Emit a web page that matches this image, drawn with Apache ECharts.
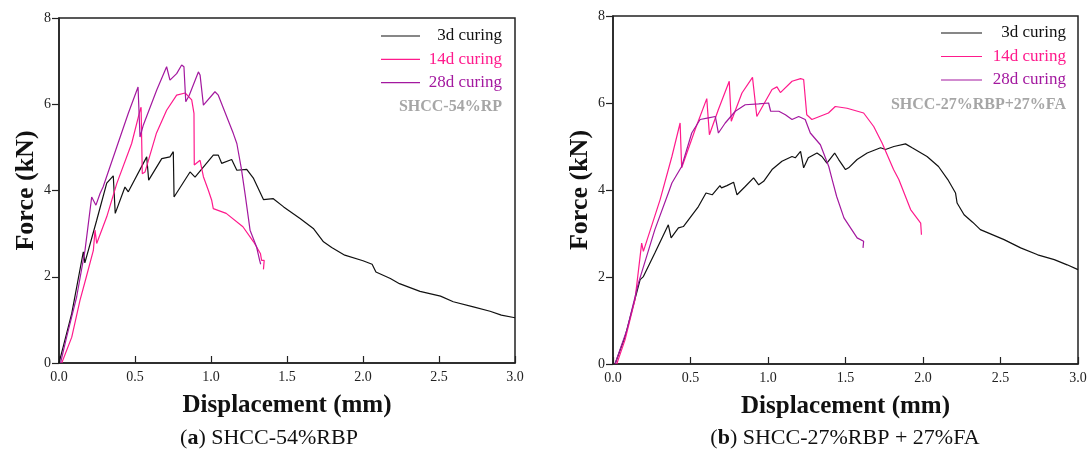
<!DOCTYPE html>
<html><head><meta charset="utf-8">
<script src="https://cdn.jsdelivr.net/npm/echarts@6/dist/echarts.min.js"></script>
<style>html,body{margin:0;padding:0;background:#fff}#c{width:1090px;height:459px}</style>
</head><body><div id="c"></div>
<script>
// ---- data: [displacement (mm), force (kN)] ----
const seriesNames = ['3d curing', '14d curing', '28d curing'];
const xTicks = [0, 0.5, 1.0, 1.5, 2.0, 2.5, 3.0];
const yTicks = [0, 2, 4, 6, 8];

const a3d = [[0,0],[0.03,0.41],[0.084,1.15],[0.16,2.58],[0.17,2.32],[0.248,3.31],[0.314,4.17],[0.357,4.34],[0.37,3.47],[0.434,4.08],[0.456,3.97],[0.577,4.78],[0.59,4.24],[0.676,4.74],[0.73,4.78],[0.752,4.90],[0.757,3.85],[0.768,3.85],[0.862,4.43],[0.895,4.31],[1.015,4.82],[1.048,4.82],[1.07,4.63],[1.136,4.72],[1.17,4.47],[1.235,4.49],[1.28,4.28],[1.345,3.79],[1.41,3.81],[1.478,3.62],[1.586,3.35],[1.673,3.12],[1.74,2.81],[1.794,2.68],[1.88,2.50],[2.0,2.37],[2.06,2.29],[2.085,2.11],[2.18,1.96],[2.24,1.84],[2.375,1.66],[2.51,1.55],[2.594,1.42],[2.726,1.30],[2.836,1.20],[2.91,1.11],[3.0,1.05]];
const a14d = [[0.018,0],[0.084,0.6],[0.138,1.45],[0.18,2.0],[0.226,2.61],[0.237,3.08],[0.248,2.77],[0.314,3.39],[0.38,4.16],[0.478,5.09],[0.533,5.86],[0.54,5.93],[0.548,4.39],[0.566,4.43],[0.64,5.32],[0.708,5.86],[0.774,6.21],[0.83,6.26],[0.873,6.1],[0.888,5.79],[0.89,4.59],[0.928,4.70],[0.95,4.32],[0.983,4.0],[1.004,3.78],[1.015,3.58],[1.10,3.47],[1.21,3.16],[1.28,2.81],[1.325,2.54],[1.333,2.38],[1.35,2.38],[1.345,2.17]];
const a28d = [[0.01,0],[0.05,0.6],[0.116,1.53],[0.171,2.61],[0.215,3.85],[0.226,3.89],[0.243,3.66],[0.27,3.93],[0.29,4.08],[0.38,5.01],[0.456,5.79],[0.52,6.40],[0.533,5.24],[0.555,5.52],[0.643,6.33],[0.708,6.87],[0.73,6.56],[0.774,6.71],[0.807,6.91],[0.822,6.87],[0.834,6.06],[0.857,6.21],[0.917,6.75],[0.928,6.68],[0.95,5.98],[0.96,5.94],[1.026,6.29],[1.048,6.21],[1.147,5.32],[1.17,5.09],[1.2,4.5],[1.225,3.9],[1.257,3.08],[1.30,2.69],[1.32,2.38],[1.327,2.29]];

const b3d = [[0.013,0],[0.078,0.63],[0.175,1.94],[0.196,2.01],[0.27,2.55],[0.357,3.20],[0.375,2.90],[0.422,3.13],[0.454,3.16],[0.551,3.62],[0.6,3.93],[0.64,3.89],[0.69,4.10],[0.70,4.05],[0.735,4.1],[0.778,4.18],[0.80,3.89],[0.853,4.08],[0.907,4.28],[0.94,4.12],[0.972,4.20],[1.026,4.47],[1.09,4.66],[1.155,4.77],[1.176,4.74],[1.21,4.89],[1.23,4.51],[1.26,4.74],[1.316,4.85],[1.348,4.77],[1.38,4.62],[1.43,4.85],[1.456,4.70],[1.50,4.47],[1.52,4.51],[1.575,4.70],[1.64,4.85],[1.726,4.97],[1.758,4.93],[1.812,5.0],[1.887,5.06],[1.93,4.97],[2.026,4.77],[2.10,4.54],[2.16,4.24],[2.21,3.93],[2.22,3.70],[2.265,3.43],[2.32,3.26],[2.37,3.09],[2.523,2.86],[2.63,2.67],[2.74,2.51],[2.847,2.40],[2.93,2.28],[3.0,2.17]];
const b14d = [[0.024,0],[0.078,0.56],[0.142,1.48],[0.185,2.78],[0.196,2.59],[0.304,3.78],[0.38,4.77],[0.433,5.54],[0.443,4.51],[0.53,5.39],[0.605,6.10],[0.622,5.27],[0.68,5.85],[0.75,6.50],[0.763,5.58],[0.832,6.23],[0.90,6.59],[0.928,5.69],[1.026,6.31],[1.058,6.37],[1.08,6.24],[1.155,6.50],[1.21,6.56],[1.23,6.54],[1.25,5.73],[1.283,5.62],[1.39,5.77],[1.434,5.92],[1.51,5.88],[1.617,5.77],[1.682,5.46],[1.736,5.08],[1.81,4.47],[1.844,4.24],[1.92,3.55],[1.985,3.24],[1.995,3.20],[1.99,2.97]];
const b28d = [[0.013,0],[0.09,0.79],[0.164,1.86],[0.27,3.09],[0.357,3.93],[0.38,4.16],[0.443,4.54],[0.508,5.31],[0.562,5.62],[0.616,5.66],[0.66,5.69],[0.68,5.31],[0.724,5.54],[0.789,5.81],[0.853,5.96],[0.94,5.98],[1.004,6.0],[1.017,5.81],[1.07,5.81],[1.112,5.73],[1.155,5.62],[1.198,5.69],[1.24,5.62],[1.273,5.31],[1.338,5.04],[1.392,4.54],[1.414,4.24],[1.443,3.85],[1.49,3.36],[1.54,3.09],[1.575,2.90],[1.617,2.82],[1.613,2.67]];

const panelLabelsA = ['SHCC-54%RP'];
const panelLabelsB = ['SHCC-27%RBP+27%FA'];
const captionA = ['a', ' SHCC-54%RBP'];
const captionB = ['b', ' SHCC-27%RBP + 27%FA'];

// ---- styles ----
const colors = ['#111111', '#ff1a8c', '#a3189f'];
const serif = '"Liberation Serif", "DejaVu Serif", serif';

const chart = echarts.init(document.getElementById('c'), null, {renderer: 'canvas'});

function xAx(gi) {
  return {
    type: 'value', gridIndex: gi, min: xTicks[0], max: xTicks[xTicks.length - 1], interval: 0.5,
    axisLine: {lineStyle: {color: '#222', width: 1.5}},
    axisTick: {inside: true, length: 7, lineStyle: {color: '#222', width: 1.2}},
    axisLabel: {color: '#222', fontFamily: serif, fontSize: 14, margin: 7, formatter: v => v.toFixed(1)},
    splitLine: {show: false},
    name: 'Displacement (mm)', nameLocation: 'middle', nameGap: 30,
    nameTextStyle: {fontFamily: serif, fontWeight: 'bold', fontSize: 25, color: '#111'}
  };
}
function yAx(gi) {
  return {
    type: 'value', gridIndex: gi, min: yTicks[0], max: yTicks[yTicks.length - 1], interval: 2,
    axisLine: {lineStyle: {color: '#222', width: 1.5}},
    axisTick: {inside: false, length: 7, lineStyle: {color: '#222', width: 1.2}},
    axisLabel: {color: '#222', fontFamily: serif, fontSize: 14, margin: 8},
    splitLine: {show: false},
    name: 'Force (kN)', nameLocation: 'middle', nameGap: 20, nameRotate: 90,
    nameTextStyle: {fontFamily: serif, fontWeight: 'bold', fontSize: 26, color: '#111'}
  };
}
function line(name, data, color, gi) {
  return {type: 'line', name, data, xAxisIndex: gi, yAxisIndex: gi, showSymbol: false, symbol: 'none',
    lineStyle: {color, width: 1.2}, animation: false, z: 3};
}
function legendGraphics(x1, x2, textRight, y0, dy, tag) {
  const g = [];
  seriesNames.forEach((n, i) => {
    const y = y0 + i * dy;
    g.push({type: 'line', shape: {x1, y1: y, x2, y2: y}, style: {stroke: colors[i], lineWidth: 1.2}});
    g.push({type: 'text', x: textRight, y, style: {text: n, fill: colors[i], font: '17px ' + serif, textAlign: 'right', textVerticalAlign: 'middle'}});
  });
  g.push({type: 'text', x: textRight, y: y0 + 3 * dy + 1, style: {text: tag, fill: '#a6a6a6', font: 'bold 16px ' + serif, textAlign: 'right', textVerticalAlign: 'middle'}});
  return g;
}
function caption(cx, parts) {
  return {type: 'text', x: cx, y: 438, style: {
    rich: {b: {fontFamily: serif, fontWeight: 'bold', fontSize: 22, fill: '#111'}, n: {fontFamily: serif, fontSize: 22, fill: '#111'}},
    text: '{n|(}{b|' + parts[0] + '}{n|)' + parts[1] + '}', textAlign: 'center', textVerticalAlign: 'middle'}};
}

chart.setOption({
  backgroundColor: '#fff',
  animation: false,
  grid: [
    {left: 59, top: 18, width: 456, height: 345, show: true, borderColor: '#222', borderWidth: 1.5, backgroundColor: 'transparent'},
    {left: 613, top: 16, width: 465, height: 348, show: true, borderColor: '#222', borderWidth: 1.5, backgroundColor: 'transparent'}
  ],
  xAxis: [xAx(0), xAx(1)],
  yAxis: [yAx(0), yAx(1)],
  series: [
    line(seriesNames[0], a3d, colors[0], 0),
    line(seriesNames[1], a14d, colors[1], 0),
    line(seriesNames[2], a28d, colors[2], 0),
    line(seriesNames[0], b3d, colors[0], 1),
    line(seriesNames[1], b14d, colors[1], 1),
    line(seriesNames[2], b28d, colors[2], 1)
  ],
  graphic: [].concat(
    legendGraphics(381, 420, 502, 36, 23.3, panelLabelsA[0]),
    legendGraphics(941, 982, 1066, 33, 23.5, panelLabelsB[0]),
    [caption(269, captionA), caption(845, captionB)]
  )
});
</script></body></html>
